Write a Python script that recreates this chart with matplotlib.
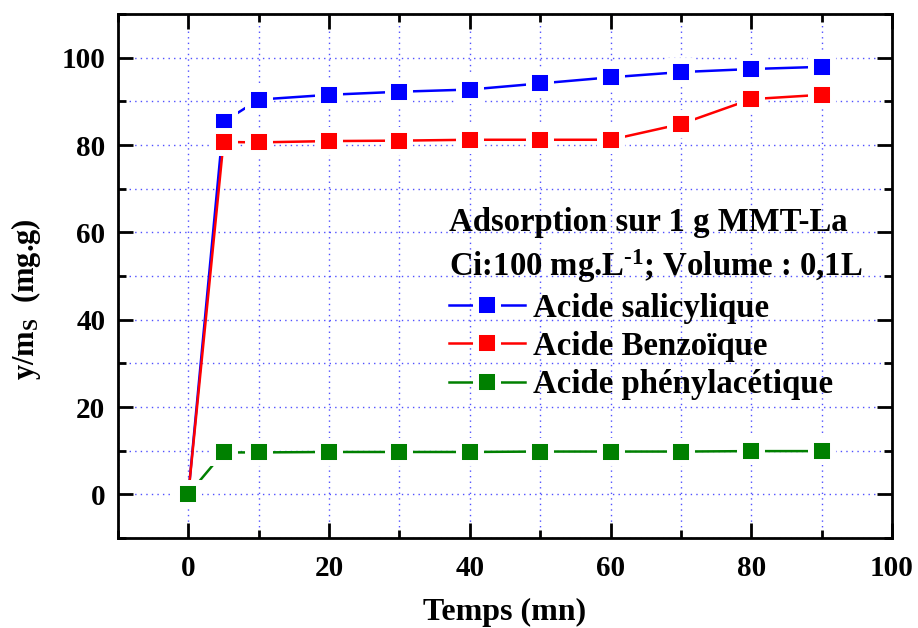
import matplotlib
matplotlib.use("Agg")
import matplotlib.pyplot as plt
from matplotlib.ticker import MultipleLocator

plt.rcParams['font.family'] = ['Liberation Serif', 'DejaVu Serif']
plt.rcParams['font.weight'] = 'bold'
plt.rcParams['mathtext.fontset'] = 'custom'
plt.rcParams['mathtext.rm'] = 'Liberation Serif:bold'
plt.rcParams['mathtext.it'] = 'Liberation Serif:bold'
plt.rcParams['mathtext.bf'] = 'Liberation Serif:bold'

# Data
temps = [0, 5, 10, 20, 30, 40, 50, 60, 70, 80, 90]
salicylique = [0, 85.3, 90.4, 91.5, 92.2, 92.7, 94.1, 95.5, 96.7, 97.4, 97.9]
benzoique = [0, 80.7, 80.6, 80.9, 81.0, 81.2, 81.2, 81.2, 84.8, 90.5, 91.5]
phenylacetique = [0, 9.6, 9.6, 9.7, 9.7, 9.7, 9.8, 9.8, 9.8, 9.9, 9.9]

series = [
    ("Acide salicylique", salicylique, "#0000ff"),
    ("Acide Benzoïque", benzoique, "#ff0000"),
    ("Acide phénylacétique", phenylacetique, "#008000"),
]

fig = plt.figure(figsize=(9.18, 6.28), dpi=100)
ax = fig.add_axes([0.1285, 0.1433, 0.9717 - 0.1285, 0.9777 - 0.1433])

for label, vals, col in series:
    ax.plot(temps, vals, '-', color=col, lw=1.8, marker='s', ms=16.3,
            mfc=col, mec='white', mew=4.3, label=label, zorder=3)

ax.set_xlim(-10, 100)
ax.set_ylim(-10, 110)
ax.xaxis.set_major_locator(MultipleLocator(20))
ax.xaxis.set_minor_locator(MultipleLocator(10))
ax.yaxis.set_major_locator(MultipleLocator(20))
ax.yaxis.set_minor_locator(MultipleLocator(10))

ax.grid(True, which='both', color='#5050ff', ls=(0, (1, 3)), lw=1.0, zorder=0)
ax.set_axisbelow(True)

for s in ax.spines.values():
    s.set_linewidth(2)
ax.tick_params(which='both', direction='in', top=True, right=True, width=2)
ax.tick_params(which='major', length=11, labelsize=21)
ax.tick_params(axis='x', which='major', pad=12)
ax.tick_params(axis='y', which='major', pad=9)
ax.tick_params(which='minor', length=6)

ax.set_xlabel("Temps (mn)", fontsize=23, fontweight='bold', labelpad=12)
ax.set_ylabel("y/m$_S$  (mg.g)", fontsize=22, fontweight='bold')
ax.yaxis.set_label_coords(-0.097, 0.456)

leg = ax.legend(loc='upper left', bbox_to_anchor=(0.428, 0.632),
                title="Adsorption sur 1 g MMT-La\nCi:100 mg.L$^{\\text{-}1}$; Volume : 0,1L",
                alignment='left', frameon=False, fontsize=23.6,
                title_fontproperties={'size': 23.6, 'weight': 'bold'},
                handlelength=2.3, handletextpad=0.25, labelspacing=0.22,
                borderpad=0, borderaxespad=0)
leg.get_title().set_linespacing(1.35)
leg._legend_handle_box.sep = 1
for t in leg.get_texts():
    t.set_fontweight('bold')

fig.savefig("out.png", dpi=100)
